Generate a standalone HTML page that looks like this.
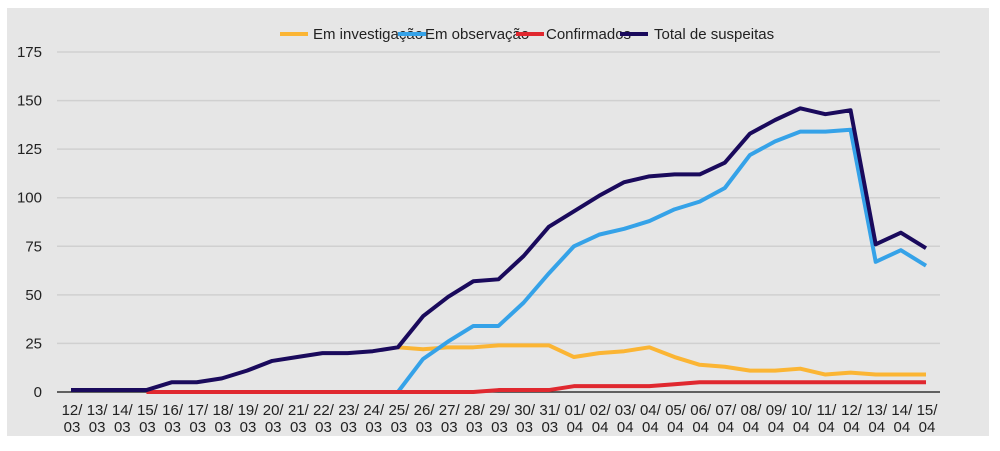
<!DOCTYPE html>
<html><head><meta charset="utf-8"><style>
body{margin:0;background:#fff;width:1000px;height:446px;overflow:hidden;font-family:"Liberation Sans",Arial,sans-serif}
</style></head><body>
<svg width="1000" height="446">
<rect x="7" y="8" width="982" height="428" fill="#e6e6e6"/>
<g id="grid"></g><g id="xl"></g><g id="lines"></g><g id="legend"></g>
</svg>
<script>
const categories=["12/03","13/03","14/03","15/03","16/03","17/03","18/03","19/03","20/03","21/03","22/03","23/03","24/03","25/03","26/03","27/03","28/03","29/03","30/03","31/03","01/04","02/04","03/04","04/04","05/04","06/04","07/04","08/04","09/04","10/04","11/04","12/04","13/04","14/04","15/04"];
const total=[1,1,1,1,5,5,7,11,16,18,20,20,21,23,39,49,57,58,70,85,93,101,108,111,112,112,118,133,140,146,143,145,76,82,74];
const observacao=[null,null,null,null,null,null,null,null,null,null,null,null,null,0,17,26,34,34,46,61,75,81,84,88,94,98,105,122,129,134,134,135,67,73,65];
const investigacao=[null,null,null,null,null,null,null,null,null,null,null,null,null,23,22,23,23,24,24,24,18,20,21,23,18,14,13,11,11,12,9,10,9,9,9];
const confirmados=[null,null,null,0,0,0,0,0,0,0,0,0,0,0,0,0,0,1,1,1,3,3,3,3,4,5,5,5,5,5,5,5,5,5,5];
const yTicks=[0,25,50,75,100,125,150,175];
const NS="http://www.w3.org/2000/svg";
const x0=71,x1=926,yb=392,yt=52;
const xs=i=>x0+(x1-x0)*i/(categories.length-1);
const ys=v=>yb-(yb-yt)*v/175;
function mk(t,a,p){const e=document.createElementNS(NS,t);for(const k in a)e.setAttribute(k,a[k]);p.appendChild(e);return e;}
const g=document.getElementById('grid');
yTicks.forEach(v=>{
 const l=mk('line',{x1:57,x2:940,y1:ys(v),y2:ys(v),stroke:v?'#d0d0d0':'#333','stroke-width':1.5},g);
 
 
 const t=mk('text',{x:42,y:ys(v)+5,'text-anchor':'end','font-size':15,fill:'#222'},g);
 t.textContent=v;
 
 
});
const xl=document.getElementById('xl');
categories.forEach((c,i)=>{
 const [d,m]=c.split('/');
 const t=mk('text',{x:xs(i)+1,y:415,'text-anchor':'middle','font-size':15,fill:'#222'},xl);
 t.textContent=d+'/';
 
 
 const t2=mk('text',{x:xs(i)+1,y:432,'text-anchor':'middle','font-size':15,fill:'#222'},xl);
 t2.textContent=m;
 
 
});
const L=document.getElementById('lines');
function series(arr,col,name){
 let d='';arr.forEach((v,i)=>{if(v===null)return;d+=(d?'L':'M')+xs(i)+','+ys(v);});
 const p=mk('path',{d:d,fill:'none',stroke:col,'stroke-width':4,'stroke-linejoin':'round'},L);
 
 
}
series(investigacao,'#fbb534','line-em-investigacao');
series(observacao,'#35a2e8','line-em-observacao');
series(confirmados,'#e0282f','line-confirmados');
series(total,'#1a0a5c','line-total-de-suspeitas');
const lg=document.getElementById('legend');
const leg=[["Em investigação","#fbb534",280,313],["Em observação","#35a2e8",398,425],["Confirmados","#e0282f",516,546],["Total de suspeitas","#1a0a5c",620,654]];
leg.forEach(([n,c,lx,tx],i)=>{
 const l=mk('line',{x1:lx,x2:lx+28,y1:34,y2:34,stroke:c,'stroke-width':4},lg);
 
 
 const t=mk('text',{x:tx,y:39,'font-size':15,fill:'#222'},lg);
 t.textContent=n;
 
 
});
</script>
</body></html>
